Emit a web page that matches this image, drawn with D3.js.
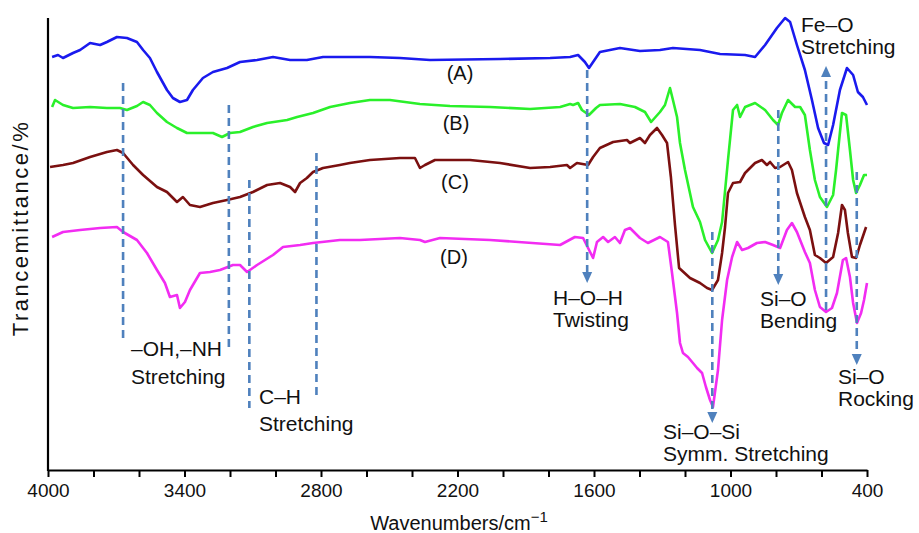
<!DOCTYPE html>
<html>
<head>
<meta charset="utf-8">
<script src="https://cdn.jsdelivr.net/npm/d3@7"></script>
<style>
  body { margin: 0; background: #fff; }
  svg text { font-family: "Liberation Sans", Arial, sans-serif; fill: #111; }
  .curve { fill: none; stroke-width: 2.6; stroke-linejoin: round; }
  .guide { stroke: #4f81bd; stroke-width: 2.6; stroke-dasharray: 8 5; }
</style>
</head>
<body>
<svg id="chart" width="919" height="533"></svg>
<script>
// wavenumbers (cm-1) and transmittance (arb. %)
const wnA = [3982,3956,3934,3890,3859,3815,3771,3741,3697,3653,3609,3582,3552,3521,3477,3451,3420,3389,3363,3319,3275,3213,3156,3081,3011,2936,2862,2791,2717,2585,2453,2321,2013,1793,1705,1670,1640,1622,1604,1574,1486,1398,1310,1253,1134,1046,936,892,848,796,760,738,708,673,642,615,589,571,549,519,488,461,440,418,400];
const tA = [82.6,83,82.4,83.4,84,85.4,85,85.6,86.6,86.4,85.6,84,82.4,79.6,76,74.4,73.6,74,76,78.4,79.6,80.4,81.6,82,82.6,82,82,82.6,82.6,82.6,82.4,82,82.2,82.4,82.6,83,81.6,80.4,81.6,83.6,84.4,83.8,84,84.4,84,83.2,83,82.6,85,88.4,90.4,89.6,85,80,74,68.4,65.4,65,69,76,80.4,79,75.6,74.6,73];

const wnB = [3982,3969,3934,3890,3815,3741,3684,3653,3609,3582,3552,3521,3477,3433,3389,3332,3275,3235,3200,3156,3099,3037,2949,2905,2835,2760,2673,2585,2497,2365,2233,2057,1881,1749,1705,1692,1670,1653,1622,1591,1574,1486,1420,1376,1349,1310,1288,1266,1253,1235,1222,1200,1165,1134,1112,1081,1055,1037,1011,989,971,958,936,892,848,813,791,774,747,716,694,673,651,629,607,576,549,536,527,510,492,475,461,448,431,413,400];
const tB = [72.6,74,73,72.4,72.6,72.4,72.4,72,72.8,73.6,73,71.4,69.6,68.4,67.4,67.4,67.4,66.6,67.4,67.6,68.6,69.4,70,70.6,71.4,72.6,73.4,74,74,73.2,72.8,72.6,72.2,72.6,73.2,73,73.4,72,71,72.4,73,73.2,72.6,71.6,69.6,71.6,73,76.4,74,70.6,65.4,60,52.6,49.6,46,43.4,46,49.6,62,72,73,70.6,72.6,73.4,72,70,69,71.4,74,72.6,72.6,71,64,58,54.6,52.6,55,60,64,71.4,71,64,58,55.4,57,59,59];

const wnC = [3991,3934,3890,3815,3741,3697,3670,3626,3582,3521,3477,3433,3407,3376,3332,3275,3213,3156,3099,3037,2980,2936,2914,2892,2862,2835,2791,2717,2673,2585,2453,2387,2365,2343,2299,2145,2013,1881,1793,1719,1705,1675,1626,1604,1574,1516,1455,1442,1398,1376,1354,1323,1301,1279,1262,1244,1226,1178,1134,1103,1081,1055,1037,1024,1011,989,958,936,892,862,840,826,804,782,747,730,708,673,651,629,607,580,549,527,510,497,484,466,448,431,404];
const tC = [60.6,61,61.4,62.6,63.6,64,63.4,61,59,56.6,55.6,53.6,54.6,53,52.6,53.4,54,54.6,55.6,57,57.4,56.6,55.6,57.4,58.4,59.6,60.4,61,61.4,62,62.4,62.4,60.4,61,62,62,61.4,60.4,60.6,61,60.4,61.4,61,62.6,64.4,65.6,66,65.4,66.4,65.4,67,68.4,67,65.4,58.6,49,40.4,38.4,37.4,36.4,36,38,43.4,48.6,55.4,57.4,57.6,59.4,61.4,62,61,61.6,60.4,60.6,61.6,60,55.4,50.6,48,43,42.4,41.4,42.6,47.4,53,52,47.4,42.6,42.4,45,48.6];

const wnD = [3982,3934,3859,3771,3697,3670,3609,3565,3521,3486,3464,3433,3420,3398,3376,3332,3288,3244,3187,3156,3125,3081,3011,2967,2892,2835,2717,2629,2453,2365,2343,2277,2057,1749,1684,1648,1626,1604,1587,1560,1538,1508,1486,1464,1442,1398,1363,1310,1275,1257,1235,1222,1209,1187,1165,1147,1125,1108,1090,1077,1055,1037,1015,993,971,949,923,884,848,813,782,752,730,708,673,651,629,607,580,554,532,506,492,475,461,444,426,413,400];
const tD = [46.6,47.6,48,48.4,48.6,47.6,46,43.4,40,37.4,34.6,35,32.4,33.6,36,39.4,39.6,40,41,41,39.6,41,43,44.6,45,45.4,46,46,46.4,46,45.6,46.4,46,45,46.6,46.4,44.4,42.4,45.6,46.6,45.6,46.6,45.4,48,48.4,46.4,45.4,46.6,45.6,39.4,31.4,25.4,23.4,22.6,21.4,20.4,19.4,16.6,14,12.6,20,30,38,42.6,45.6,44,44.4,45.4,45.6,45,44.4,48,49.4,47.6,43.6,41.4,36,32.6,31.6,32.4,35.4,42,42.4,38.6,33.4,29.4,31.4,34,37.4];

const seriesNames = ["(A)", "(B)", "(C)", "(D)"];
const seriesColors = ["#1a1aee", "#2af02a", "#7b1010", "#f22cf2"];

const xTicks = d3.range(4000, 399, -200);
const xTickLabels = [4000, 3400, 2800, 2200, 1600, 1000, 400];

// band markers: wavenumber, dashed span (transmittance), arrow direction
const bandWn = [3670, 3205, 3115, 2820, 1630, 1080, 790, 580, 445];
const bandFrom = [77.4, 73, 58, 63.4, 80, 47.6, 72, 32, 59.6];
const bandTo = [26, 24, 12.4, 14, 38.6, 10.6, 38.2, 79.6, 22.2];
const bandArrow = [false, false, false, false, true, true, true, true, true];

const bandLabels = [
  { lines: ["\u2013OH,\u2013NH", "Stretching"], x: 131, y: [356, 384] },
  { lines: ["C\u2013H", "Stretching"], x: 259, y: [404, 431] },
  { lines: ["H\u2013O\u2013H", "Twisting"], x: 553, y: [305, 327] },
  { lines: ["Si\u2013O\u2013Si", "Symm. Stretching"], x: 663, y: [439, 461] },
  { lines: ["Si\u2013O", "Bending"], x: 760, y: [306, 328] },
  { lines: ["Fe\u2013O", "Stretching"], x: 801, y: [32, 54] },
  { lines: ["Si\u2013O", "Rocking"], x: 838, y: [384, 406] }
];
const seriesLabelPos = [[460, 80], [456, 130], [455, 189], [454, 264]];

const svg = d3.select("#chart");
const x = d3.scaleLinear().domain([4000, 400]).range([48, 867]);
const y = d3.scaleLinear().domain([0, 90.4]).range([470, 18]);

const series = [[wnA, tA], [wnB, tB], [wnC, tC], [wnD, tD]];
const line = d3.line().x(d => x(d[0])).y(d => y(d[1]));

series.forEach(([wn, t], i) => {
  svg.append("path")
    .datum(d3.zip(wn, t))
    .attr("class", "curve")
    .attr("stroke", seriesColors[i])
    .attr("d", line);
});

// dashed band guides
bandWn.forEach((wn, i) => {
  const x0 = x(wn);
  const y0 = y(bandFrom[i]);
  const y1 = y(bandTo[i]);
  svg.append("line").attr("class", "guide")
    .attr("x1", x0).attr("x2", x0).attr("y1", y0).attr("y2", y1);
  if (bandArrow[i]) {
    const dir = y1 > y0 ? 1 : -1;
    const tip = y1 + dir * 6;
    svg.append("path")
      .attr("fill", "#4f81bd")
      .attr("d", `M${x0 - 5},${tip - dir * 11}L${x0 + 5},${tip - dir * 11}L${x0},${tip}Z`);
  }
});

// axes
svg.append("line").attr("x1", 48).attr("x2", 48).attr("y1", 18).attr("y2", 471)
  .attr("stroke", "#000").attr("stroke-width", 2.2);

const xAxis = svg.append("g")
  .attr("transform", "translate(0,470)")
  .call(d3.axisBottom(x).tickValues(xTicks).tickSize(7).tickSizeOuter(0)
    .tickFormat(d => xTickLabels.includes(d) ? d : ""));
xAxis.select(".domain").attr("stroke-width", 2.2);
xAxis.selectAll(".tick line").attr("stroke-width", 2);
xAxis.selectAll(".tick text")
  .attr("y", 14)
  .style("font-family", "'Liberation Sans', Arial, sans-serif")
  .style("font-size", "19px")
  .attr("fill", "#111");

const xt = svg.append("text")
  .attr("x", 459).attr("y", 530)
  .attr("text-anchor", "middle")
  .style("font-size", "20px")
  .text("Wavenumbers/cm");
xt.append("tspan").attr("dy", -8).style("font-size", "15px").text("\u22121");

svg.append("text")
  .attr("transform", "translate(28,228) rotate(-90)")
  .attr("text-anchor", "middle")
  .style("font-size", "22px")
  .style("letter-spacing", "2.5px")
  .text("Trancemittance/%");

// series labels
seriesNames.forEach((name, i) => {
  svg.append("text")
    .attr("x", seriesLabelPos[i][0]).attr("y", seriesLabelPos[i][1])
    .attr("text-anchor", "middle")
    .style("font-size", "20px")
    .text(name);
});

// band annotations
bandLabels.forEach(b => {
  b.lines.forEach((s, j) => {
    svg.append("text")
      .attr("x", b.x).attr("y", b.y[j])
      .style("font-size", "21px")
      .text(s);
  });
});
</script>
</body>
</html>
